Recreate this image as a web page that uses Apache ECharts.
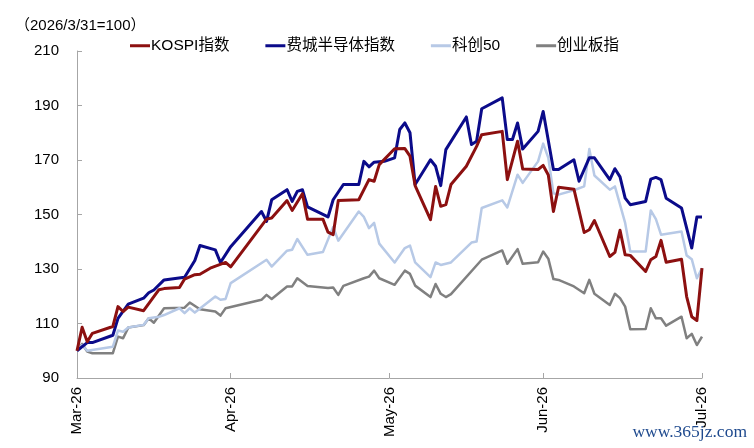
<!DOCTYPE html>
<html>
<head>
<meta charset="utf-8">
<script src="https://cdn.jsdelivr.net/npm/echarts@6/dist/echarts.min.js"></script>
<style>
html,body{margin:0;padding:0;background:#fff;}
#chart{width:754px;height:448px;}
</style>
</head>
<body>
<div id="chart"></div>
<script>
// Calendar days counted from 2026-03-31 (day 0) to 2026-07-31 (day 122)
const totalDays = 122;
const tickDays = [0, 30, 61, 91, 122];
const tickLabels = ['Mar-26', 'Apr-26', 'May-26', 'Jun-26', 'Jul-26'];
const yTicks = [90, 110, 130, 150, 170, 190, 210];
const seriesNames = ['KOSPI指数', '费城半导体指数', '科创50', '创业板指'];

const kospiDays = [0,1,2,3,7,8,9,10,13,16,17,20,21,23,24,26,29,30,37,38,41,42,44,45,48,49,50,51,55,57,58,59,62,64,65,66,69,70,71,72,73,76,78,79,83,84,86,87,90,91,92,93,94,97,99,100,101,104,105,106,107,108,111,112,113,114,115,118,119,120,121,122];
const kospiVals = [100,108.6,103.3,106.4,108.9,116.2,114.4,116,114.7,122.4,122.8,123.2,126.3,127.9,128.1,130.3,132.4,130.8,148.3,148.7,155.1,151.5,157.6,148.3,148.3,143.5,142.6,155.1,155.4,162.8,162.2,168.3,174.1,174.2,171.4,160.6,148.1,160.3,153,153.6,161,167.7,175,179.3,180.5,162.8,176.9,166.7,166.5,168,164.5,151.1,160,159.3,143.4,144.4,147.8,134.6,136.1,144.2,135.2,135,129.1,133.4,134.6,140.5,132.5,133.6,119.9,112.5,111.1,130.3];

const soxDays = [0,2,3,7,8,10,13,14,15,17,21,23,24,27,28,30,36,37,38,41,42,43,44,45,49,50,52,55,56,57,58,60,62,63,64,65,66,69,70,71,72,76,77,78,79,83,84,85,86,87,90,91,93,94,97,98,100,101,104,105,106,107,108,111,112,113,114,115,118,120,121,122];
const soxVals = [100,103,103,105.7,111.9,117.1,119.3,121.3,122.3,126,127,133.1,138.6,137,132.4,138.2,151.1,147.5,155.4,159.1,154.8,158.5,159.1,152.8,149.1,155.4,161,161,169.5,167.5,169.2,169.5,170.8,181.2,183.6,180,161,170.1,167.7,160.6,173.8,185.8,175.7,176.9,188.8,192.8,177.5,177.5,183.6,174,180.5,187.8,166.5,166.5,170.1,162.2,170.8,170.8,162.8,166.8,163.8,156,153.6,154.8,163,163.6,162.8,156,152.4,137.7,149.1,149.1];

const star50Days = [0,1,2,7,8,9,10,13,14,16,17,20,21,22,23,27,28,29,30,37,38,41,42,43,45,48,50,51,55,56,57,58,59,62,64,65,66,69,70,71,73,77,78,79,83,84,86,87,90,91,92,93,94,97,99,100,101,104,105,107,108,111,112,113,114,118,119,120,121,122];
const star50Vals = [100,102.1,100,101.5,107.4,107,108.5,109.5,111.9,112.5,113.1,115.6,113.8,115.6,114,119.9,118.7,119,124.8,133.4,130.9,136.7,137.1,141,135.2,136.2,145.4,140.4,151.1,149.1,145,146.9,139.3,132.4,137.7,138.6,132.4,127,132.4,131.5,132.4,139.7,140.1,152.4,155.2,152.6,164.6,161.6,169.5,176,170.8,157.8,157.3,158.9,160.3,174,164.3,159.1,160.3,146.9,136.4,136.4,151.5,148.3,142.6,143.8,135,133.6,126.6,130.3];

const chinextDays = [0,1,2,3,7,8,9,10,13,14,15,17,21,22,24,27,28,29,36,37,38,41,42,43,45,49,50,51,52,56,57,58,59,62,64,65,66,69,70,71,72,73,79,83,84,86,87,90,91,92,93,94,97,99,100,101,104,105,106,107,108,111,112,113,114,115,118,119,120,121,122];
const chinextVals = [100,102.5,99.7,99.1,99.1,105.2,104.6,108.5,109.4,111.9,110.3,115.6,115.8,117.7,115.2,114.4,112.9,115.6,118.7,120.5,119,123.6,123.6,126.6,123.8,123,123.2,120.5,123.8,126.6,127.2,129.4,126.6,124.2,129.4,128.2,123.9,119.7,124.5,120.9,119.7,120.8,133.4,136.8,131.9,137.3,131.9,132.5,136.4,133.8,126.3,126,123.6,121.1,126,120.9,116.8,120.9,119.3,116.2,107.9,108,115.6,111.9,111.9,109.2,112.5,104.6,106.2,102.1,105.2];

const colors = ['#8C1010', '#0B0B8A', '#B7C9E6', '#808080'];
const widths = [3, 3, 2.5, 2.5];

const categories = [];
for (let i = 0; i <= totalDays; i++) categories.push(i);

function fill(days, vals) {
  const arr = new Array(totalDays + 1).fill(null);
  days.forEach((d, i) => { arr[d] = vals[i]; });
  return arr;
}
const seriesData = [
  fill(kospiDays, kospiVals),
  fill(soxDays, soxVals),
  fill(star50Days, star50Vals),
  fill(chinextDays, chinextVals)
];

const FONT = "'Liberation Sans', 'Noto Sans CJK SC', Arial, sans-serif";
const chart = echarts.init(document.getElementById('chart'), null, {renderer: 'canvas'});
const isTick = (idx) => tickDays.indexOf(Number(idx)) >= 0;

chart.setOption({
  animation: false,
  backgroundColor: '#fff',
  textStyle: {fontFamily: FONT},
  title: {
    text: '（2026/3/31=100）',
    left: 10, top: 13,
    textStyle: {fontSize: 15, fontWeight: 'normal', color: '#000', fontFamily: FONT}
  },
  legend: {
    data: seriesNames,
    left: 125, top: 33,
    icon: 'rect',
    itemWidth: 20, itemHeight: 3,
    itemGap: 36,
    textStyle: {fontSize: 15.5, color: '#000', fontFamily: FONT, padding: [0, 0, 0, -4]}
  },
  grid: {left: 77, right: 52, top: 51, bottom: 70, containLabel: false},
  xAxis: {
    type: 'category',
    data: categories,
    boundaryGap: false,
    axisLine: {lineStyle: {color: '#A6A6A6', width: 1}},
    axisTick: {inside: true, length: 5, interval: (i) => isTick(i), lineStyle: {color: '#A6A6A6'}},
    axisLabel: {
      interval: (i) => isTick(i),
      rotate: 90,
      margin: 9,
      fontSize: 15,
      color: '#000',
      fontFamily: FONT,
      formatter: (v) => tickLabels[tickDays.indexOf(Number(v))]
    },
    splitLine: {show: false}
  },
  yAxis: {
    type: 'value',
    min: yTicks[0], max: yTicks[yTicks.length - 1], interval: 20,
    axisLine: {show: true, lineStyle: {color: '#A6A6A6', width: 1}},
    axisTick: {show: true, inside: true, length: 5, lineStyle: {color: '#A6A6A6'}},
    axisLabel: {fontSize: 15, color: '#000', margin: 18, fontFamily: FONT},
    splitLine: {show: false}
  },
  graphic: [{
    type: 'text',
    right: 7, bottom: 7,
    z: 100,
    style: {text: 'www.365jz.com', fill: '#1F4A8E', font: "17.5px 'Liberation Serif', 'DejaVu Serif', serif"}
  }],
  series: seriesNames.map((name, k) => ({
    name: name,
    type: 'line',
    data: seriesData[k],
    connectNulls: true,
    showSymbol: false,
    symbol: 'none',
    z: 10 - k,
    itemStyle: {color: colors[k]},
    lineStyle: {color: colors[k], width: widths[k], join: 'round'}
  }))
});
</script>
</body>
</html>
